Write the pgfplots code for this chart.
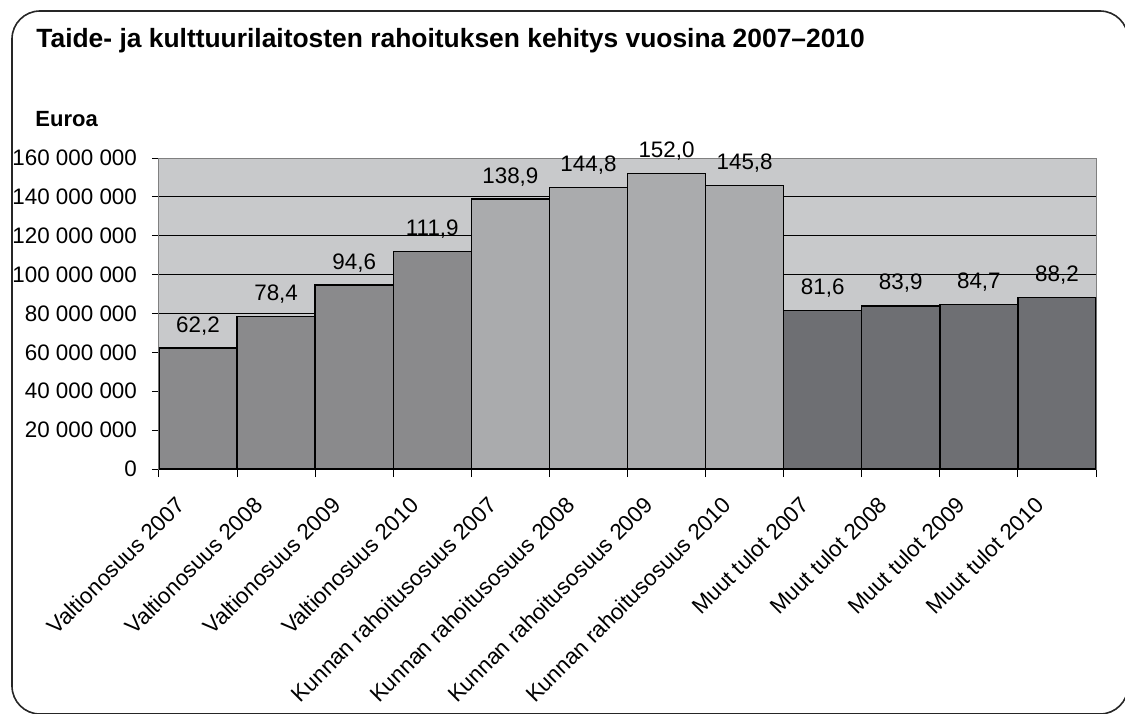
\documentclass[border=0pt]{standalone}
\usepackage{fontspec}
\setmainfont{Liberation Sans}
\usepackage{pgfplots}
\pgfplotsset{compat=1.18}
\definecolor{bgc}{RGB}{200,201,203}
\definecolor{cv}{RGB}{138,138,140}
\definecolor{ck}{RGB}{170,171,173}
\definecolor{cm}{RGB}{110,111,115}
\begin{document}
\begin{tikzpicture}
\begin{scope}
\clip (-79.5pt,-122pt) rectangle (483pt,234.5pt);
\draw[black!85, line width=0.8pt, rounded corners=14pt] (-73.5pt,-122.5pt) rectangle (484.5pt,229pt);
\end{scope}
\node[anchor=base west, inner sep=0pt, font=\fontsize{13.2}{15}\selectfont\bfseries] at (-61.5pt,210.5pt) {Taide- ja kulttuurilaitosten rahoituksen kehitys vuosina 2007–2010};
\node[anchor=base west, inner sep=0pt, font=\fontsize{11}{13}\selectfont\bfseries] at (-62pt,171.5pt) {Euroa};
\begin{axis}[
  at={(0pt,0pt)}, anchor=south west,
  width=468.5pt, height=155.5pt, scale only axis,
  xmin=-0.5, xmax=11.5, ymin=0, ymax=160,
  axis background/.style={fill=bgc},
  axis line style={gray, line width=0.5pt},
  ymajorgrids, grid style={black, line width=0.5pt},
  ytick={0,20,...,160},
  yticklabels={0,20 000 000,40 000 000,60 000 000,80 000 000,100 000 000,120 000 000,140 000 000,160 000 000},
  ytick pos=left, xtick pos=bottom,
  tick align=outside, major tick length=3.5pt, minor tick length=4pt,
  tick style={black, line width=0.5pt},
  major x tick style={draw=none},
  xtick={0,...,11},
  minor xtick={-0.5,0.5,...,11.5},
  xticklabels={Valtionosuus 2007,Valtionosuus 2008,Valtionosuus 2009,Valtionosuus 2010,Kunnan rahoitusosuus 2007,Kunnan rahoitusosuus 2008,Kunnan rahoitusosuus 2009,Kunnan rahoitusosuus 2010,Muut tulot 2007,Muut tulot 2008,Muut tulot 2009,Muut tulot 2010},
  xticklabel style={xshift=-11.8pt, yshift=-9.3pt, rotate=45, anchor=north east, inner sep=0pt},
  yticklabel style={xshift=-4pt},
  tick label style={font=\fontsize{11.2}{13}\selectfont},
  /pgf/number format/assume math mode=true,
  /pgf/number format/.cd, fixed, fixed zerofill, precision=1, use comma, 1000 sep={},
  /pgfplots/.cd,
  nodes near coords,
  nodes near coords style={font=\fontsize{11.2}{13}\selectfont, anchor=base, inner sep=0pt, yshift=8pt},
  every axis plot/.append style={ybar, bar width=1, bar shift=0pt, draw=black, line width=0.7pt},
]
\addplot[fill=cv] coordinates {(0,62.2) (1,78.4) (2,94.6) (3,111.9)};
\addplot[fill=ck] coordinates {(4,138.9) (5,144.8) (6,152.0) (7,145.8)};
\addplot[fill=cm] coordinates {(8,81.6) (9,83.9) (10,84.7) (11,88.2)};
\end{axis}
\pgfresetboundingbox
\path[use as bounding box] (-79.5pt,-122pt) rectangle (483pt,234.5pt);
\end{tikzpicture}
\end{document}
